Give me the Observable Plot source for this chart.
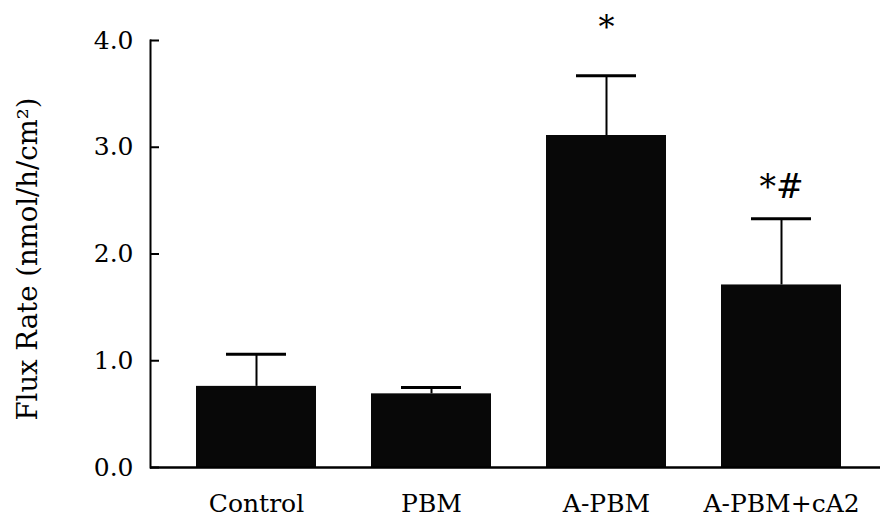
<!DOCTYPE html>
<html>
<head>
<meta charset="utf-8">
<script src="https://cdn.jsdelivr.net/npm/d3@7"></script>
<script src="https://cdn.jsdelivr.net/npm/@observablehq/plot@0.6"></script>
<style>
  html, body { margin: 0; padding: 0; background: #fff; }
  svg { display: block; }
</style>
</head>
<body>
<div id="chart"></div>
<script>
// Flux rate per treatment group (mean with upper SEM whisker)
const groups = ["Control", "PBM", "A-PBM", "A-PBM+cA2"];
const means = [0.76, 0.69, 3.11, 1.71];
const sems = [0.30, 0.06, 0.56, 0.62];
const marks = ["", "", "*", "*#"];
const yTicks = [0, 1, 2, 3, 4];
const yTitle = "Flux Rate (nmol/h/cm²)";

const rows = groups.map((g, i) => ({
  group: g,
  value: means[i],
  upper: means[i] + sems[i],
  sig: marks[i]
}));

const W = 880, H = 524, ML = 150, MR = 0;
const font = "'DejaVu Serif', serif";

const chart = Plot.plot({
  width: W,
  height: H,
  marginLeft: ML,
  marginRight: MR,
  marginTop: 40,
  marginBottom: 57,
  style: { fontFamily: font, background: "#fff", color: "#000" },
  x: { domain: groups, paddingInner: 0.315, paddingOuter: 0.24, align: 0.536, label: null },
  y: { domain: [0, 4], label: null },
  marks: [
    Plot.barY(rows, { x: "group", y: "value", fill: "#080808" }),
    Plot.ruleX(rows, { x: "group", y1: "value", y2: "upper", stroke: "#000", strokeWidth: 2 }),
    Plot.tickY(rows, { x: "group", y: "upper", stroke: "#000", strokeWidth: 3, insetLeft: 30, insetRight: 30 }),
    Plot.text(rows.filter(d => d.sig === "*"), {
      x: "group", y: "upper", text: "sig", fontSize: 32, lineAnchor: "bottom", dy: -38, fill: "#000"
    }),
    Plot.text(rows.filter(d => d.sig === "*#"), {
      x: "group", y: "upper", text: "sig", fontSize: 33, lineAnchor: "bottom", dy: -21, fill: "#000"
    }),
    // axis lines and inward ticks
    Plot.frame({ anchor: "left", stroke: "#000", strokeWidth: 2 }),
    Plot.ruleY([0], { stroke: "#000", strokeWidth: 2.5 }),
    Plot.tickY(yTicks, { y: d => d, stroke: "#000", strokeWidth: 2, insetRight: W - ML - MR - 9 }),
    Plot.axisY({
      ticks: yTicks, tickSize: 0, tickPadding: 17, tickFormat: d3.format(".1f"),
      fontSize: 25, label: null
    }),
    Plot.text([yTitle], {
      text: d => d, frameAnchor: "left", textAnchor: "middle", rotate: -90, dx: -122, dy: 5,
      fontSize: 27.5, fill: "#000"
    }),
    Plot.axisX({ tickSize: 0, tickPadding: 27, fontSize: 25, label: null })
  ]
});

document.getElementById("chart").appendChild(chart);
</script>
</body>
</html>
